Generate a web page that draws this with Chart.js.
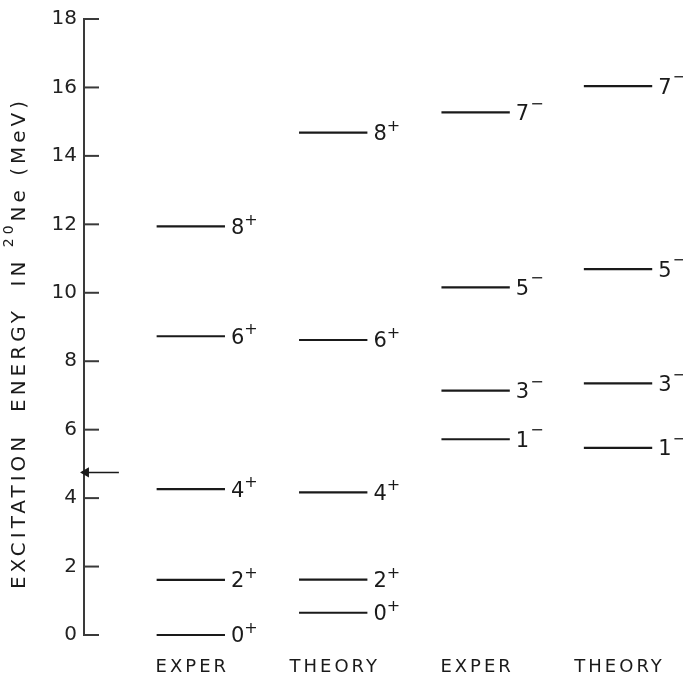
<!DOCTYPE html>
<html>
<head>
<meta charset="utf-8">
<script src="https://cdn.jsdelivr.net/npm/chart.js@4/dist/chart.umd.min.js"></script>
<style>
  html, body { margin: 0; padding: 0; background: #fff; }
  #wrap { width: 683px; height: 681px; }
</style>
</head>
<body>
<div id="wrap"><canvas id="levels"></canvas></div>
<script>
// columns along the bottom
const columnNames = ['EXPER', 'THEORY', 'EXPER', 'THEORY'];

// positive parity band (MeV)
const posSpins = ['0', '2', '4', '6', '8'];
const posExper = [0, 1.61, 4.26, 8.73, 11.94];
const posTheory = [0.65, 1.62, 4.17, 8.62, 14.68];

// negative parity band (MeV)
const negSpins = ['1', '3', '5', '7'];
const negExper = [5.72, 7.14, 10.16, 15.27];
const negTheory = [5.47, 7.35, 10.69, 16.04];

// alpha threshold marker on the axis
const arrowEnergy = 4.75;

const yMin = 0, yMax = 18, yStep = 2;

const ink = '#1a1a1a';
const halfWidth = 0.24;

const levelSet = (column, energies, spins, parity) => energies.map((e, i) => ({
    type: 'line',
    data: [{ x: column - halfWidth, y: e }, { x: column + halfWidth, y: e }],
    borderColor: ink,
    borderWidth: 2.2,
    pointRadius: 0,
    clip: false,
    spin: spins[i],
    parity,
}));

const datasets = [
    ...levelSet(1, posExper, posSpins, '+'),
    ...levelSet(2, posTheory, posSpins, '+'),
    ...levelSet(3, negExper, negSpins, '-'),
    ...levelSet(4, negTheory, negSpins, '-'),
    {
        type: 'line',
        data: [{ x: 0.495, y: arrowEnergy }, { x: 0.264, y: arrowEnergy }],
        borderColor: ink,
        borderWidth: 1.4,
        pointRadius: [0, 4.5],
        pointStyle: 'triangle',
        rotation: -90,
        pointBackgroundColor: ink,
        pointBorderColor: ink,
        clip: false,
    },
];

const decorations = {
    id: 'decorations',
    afterDatasetsDraw(chart) {
        const { ctx, scales: { x, y } } = chart;
        ctx.save();

        // inward tick marks
        ctx.strokeStyle = '#3a3a3a';
        ctx.lineWidth = 2;
        y.ticks.forEach(t => {
            const py = y.getPixelForValue(t.value);
            ctx.beginPath();
            ctx.moveTo(x.left, py);
            ctx.lineTo(x.left + 15, py);
            ctx.stroke();
        });

        // spin / parity labels
        ctx.fillStyle = ink;
        ctx.textBaseline = 'middle';
        ctx.textAlign = 'left';
        chart.data.datasets.forEach((ds, i) => {
            if (!ds.spin) return;
            const end = chart.getDatasetMeta(i).data[1];
            const lx = end.x + 6;
            const ly = end.y + 2;
            ctx.font = '21px "DejaVu Sans"';
            ctx.fillText(ds.spin, lx, ly);
            const w = ctx.measureText(ds.spin).width;
            ctx.font = '16px "DejaVu Sans"';
            if (ds.parity === '+') {
                ctx.fillText('+', lx + w, ly - 8);
            } else {
                ctx.fillText('\u2212', lx + w + 1, ly - 10);
            }
        });

        // column names
        ctx.font = '18px "DejaVu Sans"';
        ctx.letterSpacing = '3px';
        columnNames.forEach((name, i) => {
            const cx = x.getPixelForValue(i + 1);
            const w = ctx.measureText(name).width - 3;
            ctx.fillText(name, cx - w / 2, 667);
        });

        // axis title, rotated, with superscript mass number
        ctx.translate(20, 343);
        ctx.rotate(-Math.PI / 2);
        ctx.letterSpacing = '4px';
        const parts = [
            { text: 'EXCITATION  ENERGY  IN ', font: '20px "DejaVu Sans"', dy: 0 },
            { text: '20', font: '14px "DejaVu Sans"', dy: -11 },
            { text: 'Ne (MeV)', font: '20px "DejaVu Sans"', dy: 0 },
        ];
        let total = 0;
        parts.forEach(p => { ctx.font = p.font; p.w = ctx.measureText(p.text).width; total += p.w; });
        let px = -total / 2;
        parts.forEach(p => {
            ctx.font = p.font;
            ctx.fillText(p.text, px, p.dy);
            px += p.w;
        });
        ctx.restore();
    },
};

new Chart(document.getElementById('levels'), {
    type: 'line',
    data: { datasets },
    options: {
        responsive: true,
        maintainAspectRatio: false,
        animation: false,
        events: [],
        layout: { padding: { left: 44, top: 13, right: 8, bottom: 46 } },
        plugins: {
            legend: { display: false },
            tooltip: { enabled: false },
        },
        scales: {
            x: {
                type: 'linear',
                min: 0.25,
                max: 4.4,
                display: false,
            },
            y: {
                type: 'linear',
                min: yMin,
                max: yMax,
                afterFit: (scale) => { scale.width = 40; },
                ticks: {
                    stepSize: yStep,
                    padding: 7,
                    color: '#222',
                    font: { family: 'DejaVu Sans', size: 20 },
                },
                grid: { display: false, drawTicks: false },
                border: { display: true, color: '#3a3a3a', width: 2 },
            },
        },
    },
    plugins: [decorations],
});
</script>
</body>
</html>
